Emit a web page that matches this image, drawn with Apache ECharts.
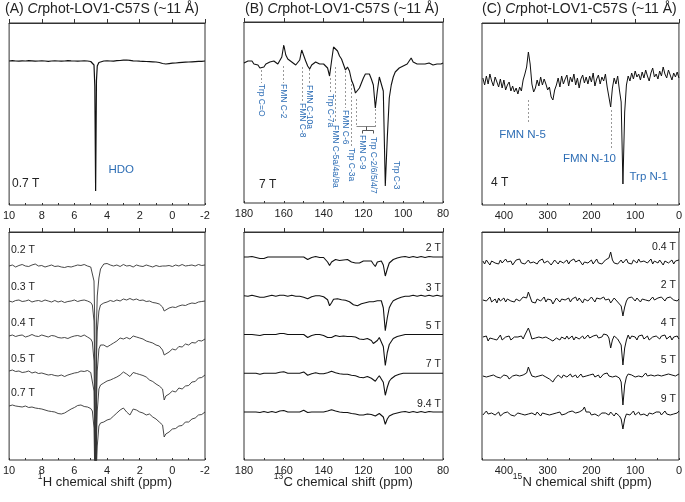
<!DOCTYPE html>
<html><head><meta charset="utf-8">
<script src="https://cdn.jsdelivr.net/npm/echarts@6/dist/echarts.min.js"></script>
<style>html,body{margin:0;padding:0;background:#fff}#c{width:685px;height:502px}</style>
</head><body><div id="c"></div>
<script>
// ---------------- DATA ----------------
// (A) 1H chemical shift grid (ppm)
const hShift = [10.0,9.8,9.6,9.4,9.2,9.0,8.8,8.6,8.4,8.2,8.0,7.8,7.6,7.4,7.2,7.0,6.8,6.6,6.4,6.2,6.0,5.8,5.6,5.4,5.2,5.0,
  4.9,4.8,4.75,4.7,4.65,4.6,4.5,4.4,
  4.2,4.0,3.8,3.6,3.4,3.2,3.0,2.8,2.6,2.4,2.2,2.0,1.8,1.6,1.4,1.2,1.0,0.8,0.6,
  0.5,0.4,
  0.2,0.0,-0.2,-0.4,-0.6,-0.8,-1.0,-1.2,-1.4,-1.6,-1.8,-2.0];
const hTop07T = [0,0.3,0,-0.2,0.2,0,0.3,0.1,-0.2,0,0.2,0,-0.3,0,0.2,0,-0.2,0,0.3,0.1,0,-0.2,0,0.2,0,-0.5,
  -1,-4,-25,-130,-20,-5,-1.5,-0.5,
  0,0.2,0,-0.2,0.3,0.5,0.8,1,0.6,0.2,0,-0.2,-0.3,-0.5,-0.6,-0.8,-1,-1.5,-2.5,
  -3.5,-3,
  -2.6,-2.2,-2,-1.7,-1.4,-1.2,-1,-0.8,-0.6,-0.4,-0.3,0];
const hSpec02T = [0,1,-1,0.5,1.5,0,-0.5,1,2,0,0.5,-1,0,1,-0.5,0,-1,-1.5,-0.5,-1,0,1,0.5,1.5,0,-1,
  -3,-15,-60,-250,-60,-30,-12,-3,
  2,2.5,1,0,1,-0.5,1.5,0,0.5,-1,1,0,-0.5,1,0,-1,0.5,-0.5,0,
  -1,0,
  0.5,-0.5,1,0,1.5,0,0.5,1,0,1.5,0.5,1];
const hSpec03T = [0,-1,0.5,1,-0.5,0,1,-1,0,0.5,-0.5,1,0,-1,0.5,-1,0,-1.5,-0.5,0,1,-0.5,0.5,1,0,-1.5,
  -4,-20,-70,-250,-60,-30,-10,-4,
  -2,-1,0.5,-0.5,1,0,2,1,2.5,1,2,0.5,1,-0.5,0,-1.5,-2,-3,-6,
  -10,-8,
  -7,-6,-6.5,-5,-4,-4.5,-3,-2,-2.5,-1,-0.5,0];
const hSpec04T = [0,1,-0.5,0.5,1,-1,0,1.5,0,-0.5,1,0,-1,0.5,0,-1.5,-2,-1.5,-2.5,-1,0,0.5,-0.5,1,-1,-3,
  -6,-25,-80,-250,-70,-35,-13,-9,
  -9,-11,-9,-7,-5,-2,-3,-1.5,-3,0,-1,-2,-3,-5,-6,-7,-9,-10,-14,
  -19,-17,
  -16,-13,-14,-10.5,-11,-8,-9,-6.5,-7,-4.5,-5,-3];
const hSpec05T = [0,1,-0.5,0,-1.5,-1,0,-2,-1,-2.5,-2,-3,-4,-3.5,-4.5,-5,-4,-5.5,-4,-3,-2,-1.5,0,-0.5,0.5,-1.5,
  -3,-20,-80,-250,-70,-40,-18,-14,
  -12,-10,-9,-7.5,-6,-4,-1,-3,-5.5,-1.5,-2.5,-3.5,-4.5,-6,-9,-10.5,-13,-15,-18,
  -29,-25,
  -23,-20,-21,-17,-18,-15,-14.5,-11,-10.5,-7,-6.5,-4];
const hSpec07T = [0,1,0,-0.5,-1,0,-1.5,-1,-2,-2.5,-3,-4,-5,-5.5,-6,-7.5,-8,-7,-5,-3,-1.5,0.5,1,-0.5,-1,-2.5,
  -5,-22,-70,-250,-60,-40,-20,-17,
  -16,-14,-13,-10,-7,-4,-2,-6,-9,-3,-4,-6,-7,-9,-8,-11,-13,-16,-19,
  -31,-28,
  -26,-23,-22.5,-20,-19.5,-16,-16,-13,-12,-9,-8.5,-6];

// (B) 13C chemical shift grid (ppm)
const cShift = [180,179,178,177,176,175,174,173,172,171,170,169,168,167,166,165,164,163,162,161,
  160,159,158,157,156,155,154,153,152,151,150,149,148,147,146,145,144,143,142,141,
  140,139,138,137,136,135,134,133,132,131,130,129,128,127,126,125,124,123,122,121,
  120,119,118,117,116,115,114,113,112,111,110,109,108,107,106,105,104,103,102,101,
  100,99,98,97,96,95,94,93,92,91,90,89,88,87,86,85,84,83,82,81,80];
const cTop7T = [0,1,2,0,2,-1,-3,-2,-5,-6, -4,-1,0,1,0,2,0,-1,1,6,
  18,8,4,3,1,-1,-2,0,3,13, 15,2,-3,-6,-2,0,1,0,-1,0,
  -1,-2,-5,-13,2,16,15,12,7,4, 2,-7,-4,-8,-17,-22,-30,-28,-25,-20,
  -15,-11,-9,-11,-16,-22,-45,-28,-14,-12, -28,-123,-75,-35,-22,-14,-9,-7,-5,-4,
  -3,-2,-1,2,5,1,0,-1,-2,-1, 0,-1,1,0,-1,-2,0,-1,-2,-1, 0];
const cSpec2T = [0,0.5,0,-0.5,0.5,0,-0.5,-1,-1.5,-2, -1.5,-0.5,0,0.5,0,-0.5,0,0.5,0,-0.5,
  0,0.5,0,-0.5,0,0.5,0,-0.5,0,0.5, 0,-1,-2.5,-1.5,-0.5,0,0.5,0,-0.5,0,
  -0.5,-2,-5,-8.5,-5,-3,-2.5,-3,-3.5,-2.5, -3,-3.5,-2.5,-4,-5,-4,-6,-5,-6,-5,
  -4,-3.5,-4,-3,-4,-7,-9.5,-5,-3,-4, -8,-19,-12,-6,-4,-2.5,-1.5,-1,-0.5,0,
  0,0.5,0,-0.5,0,0.5,0,-0.5,0,0.5, 0,-0.5,0,0.5,0,0,-0.5,0,0.5,0, 0];
const cSpec3T = [0,0.5,-0.5,0,0.5,0,-0.5,-1,-1.5,-2, -1.5,-1,-0.5,0,0.5,0,-0.5,0,0.5,0,
  0.5,0,-0.5,0,0.5,0,-0.5,0,-0.5,-1, -1.5,-2,-3,-2,-1,-0.5,0,-0.5,0,-0.5,
  -1,-2,-4,-10,-7,-3.5,-3,-3,-3.5,-4, -4,-4.5,-5,-6,-8,-9,-10.5,-10,-9,-8,
  -7,-7,-6.5,-6,-6,-6,-6.5,-5,-3.5,-5, -12,-35,-22,-12,-8,-5,-4,-3,-2,-1.5,
  -1,-0.5,0,-0.5,0,0.5,0,-0.5,0,0.5, 0,-0.5,0,0.5,0,-0.5,0,0.5,0,-0.5, 0];
const cSpec5T = [0,0.5,0,-0.5,0,0.5,-0.5,-1,-1,-0.5, 0,-0.5,0,0.5,0,-0.5,0,0.5,1,1.5,
  1,0.5,0,-0.5,0,0.5,0,-0.5,0,0.5, 0,-1,-3,-2,-1,-0.5,0,0.5,0,-0.5,
  -1,-1.5,-3,-5,-3,-1.5,-1,-1.5,-2,-1.5, -1.5,-2,-2,-2.5,-2,-2.5,-2.5,-3.5,-4.5,-5.5,
  -5,-4.5,-4,-4,-6,-9,-10.5,-6,-3,-5, -12,-31,-18,-10,-7,-4,-3,-2,-1.5,-1,
  -0.5,0,0.5,0,-0.5,0,0.5,0,-0.5,0, 0.5,0,-0.5,0,0.5,0,-0.5,0,0.5,0, 0];
const cSpec7T = [0,0.5,0,-0.5,0,0.5,0,-0.5,-1,-0.5, 0,-0.5,0,0.5,0,-0.5,0,0.5,1,2,
  1.5,0.5,0,-0.5,0,0.5,0,-0.5,0,0.5, 1.3,0,-2,-1,-0.5,0,0.5,0,-0.5,0,
  -0.5,0,0.5,1,2,1.5,0.5,0,-0.5,-1, -1,-1.5,-1,-1.5,-2,-2,-2.5,-3,-4,-5.5,
  -4.5,-3.5,-3.3,-3.5,-5,-7,-8,-5,-2.5,-4, -9,-22,-14,-8,-5.5,-3.5,-2.5,-1.5,-1,-0.5,
  0,0.5,0,-0.5,0,0.5,0,-0.5,0,0.5, 0,-0.5,0,0.5,0,-0.5,0,0.5,0,0, 0];
const cSpec94T = [0,0.5,0,-0.5,0,0.5,0,-0.5,-0.5,0, 0.5,0,-0.5,0,0.5,0,-0.5,0,1,2.3,
  1.5,0.5,0,-0.5,0,0.5,0,-0.5,0,1, 1.7,0.5,-0.5,-0.5,0,0.5,0,-0.5,0,0.5,
  0,0.5,1,1.5,2.3,2,1,0.5,0,-0.5, -0.5,-1,-0.5,-1,-1.5,-1.7,-2,-2.5,-3,-3.3,
  -3,-2.5,-2,-2,-2.5,-3.5,-4,-3,-1.5,-2.5, -5,-12.3,-7,-4,-3,-2,-1.5,-1,-0.5,0,
  0,0.5,0,-0.5,0,0.5,0,-0.5,0,0.5, 0,-0.5,0,0.5,0,0,-0.5,0,0.5,0, 0];

// (C) 15N chemical shift grid (ppm)
const nShift = [448,444,440,436,432,428,424,420,416,412,
  408,404,400,396,392,388,384,380,376,372,
  368,364,360,356,352,348,344,340,336,332,
  328,324,320,316,312,308,304,300,296,292,
  288,284,280,276,272,268,264,260,256,252,
  248,244,240,236,232,228,224,220,216,212,
  208,204,200,196,192,188,184,180,176,172,
  168,164,160,156,152,148,144,140,136,132,
  128,124,120,116,112,108,104,100,96,92,
  88,84,80,76,72,68,64,60,56,52,
  48,44,40,36,32,28,24,20,16,12,
  8,4,0];
const nTop4T = [4,-3,6,-2,8,1,-4,5,0,-5,
  3,-6,2,-8,-3,0,-9,-4,-10,-6,
  -12,-5,-9,2,8,15,30,18,-2,-10,
  -6,2,-4,5,-3,3,-2,-8,-5,-15,
  -18,-8,-3,4,-5,6,-2,3,7,-4,
  5,0,8,-3,4,-6,3,7,-1,5,
  -2,6,0,9,-4,3,7,-2,5,1,
  8,-5,-3,-25,-6,4,-2,6,-8,-20,
  -102,-30,-3,6,1,9,3,11,5,8,
  2,10,4,12,6,1,9,14,5,8,
  3,11,6,15,8,4,12,7,2,9,
  5,10,4];
const nSpec04T = [1,-2,2,0,-3,1,3,-1,0,-2,
  2,-1,1,3,0,-2,1,-3,-1,2,
  0,3,-1,1,-2,0,2,-1,-3,0,
  2,-2,1,0,3,-1,-2,1,0,-3,
  -1,2,0,-2,1,3,-1,0,2,-2,
  1,-1,3,0,-2,2,1,-3,0,2,
  -1,1,2,-2,0,3,-1,1,-2,0,
  2,0,4,10,2,-1,1,-2,0,2,
  -1,1,3,-1,0,-2,2,1,-1,3,
  0,-2,1,2,-1,0,3,-2,1,0,
  -1,2,0,-3,1,2,-1,0,2,-2,
  1,0,2];
const nSpec2T = [0,2,-1,1,3,-2,0,1,-3,2,
  -1,0,2,-2,1,3,-1,0,-2,1,
  2,-1,0,3,1,2,8,3,-2,0,
  -3,1,2,-1,0,3,-2,1,-1,0,
  -4,-1,2,0,-2,1,3,0,-1,2,
  -2,1,0,3,-1,2,0,-3,1,2,
  -1,0,3,1,-2,2,0,1,-1,3,
  0,-2,1,-3,-1,2,0,-2,-4,-6,
  -16,-7,-1,2,0,3,1,-1,2,0,
  -2,1,3,0,2,-1,1,3,0,-2,
  2,0,3,1,-1,2,0,3,1,0,
  2,-1,1];
const nSpec4T = [1,-1,2,-3,0,2,-1,1,-2,0,
  3,-2,0,1,-1,2,-2,0,1,3,
  1,0,2,-1,3,4,10,5,-1,-3,
  0,-2,1,-1,0,-2,1,0,-1,-2,
  -3,-1,0,2,-2,1,0,-1,2,-1,
  0,2,-2,1,3,-1,0,2,-1,1,
  3,0,-1,2,1,3,0,2,1,4,
  2,3,0,-10,-2,2,1,-1,-3,-7,
  -27,-10,-2,3,-1,2,0,1,-2,2,
  0,3,-1,1,2,-2,0,1,-1,2,
  1,-1,2,0,3,-1,1,2,-2,1,
  0,2,-1];
const nSpec5T = [0,2,-1,1,0,-2,1,0,-1,1,
  -2,0,1,-1,0,-3,-1,0,-2,1,
  -1,0,-2,1,2,3,9,4,0,-2,
  -1,1,0,-2,1,0,-1,-2,-3,-4,
  -6,-3,-1,1,0,-2,1,2,-1,0,
  2,-1,0,1,-2,0,2,-1,1,0,
  -2,1,0,2,-1,0,1,-2,0,2,
  1,3,0,2,-1,1,0,2,-2,-6,
  -29,-9,-1,2,0,1,3,-1,1,0,
  2,-1,1,3,0,-2,1,2,0,-1,
  1,3,0,2,1,-1,2,0,1,3,
  0,1,2];
const nSpec9T = [-1,1,3,0,-2,1,2,-1,0,2,
  -2,0,1,-1,2,0,-1,1,-2,0,
  1,-1,0,2,-1,1,0,-2,1,0,
  -1,2,0,-2,1,-1,0,2,-1,1,
  0,-2,1,0,2,-1,1,0,-1,2,
  1,3,5,1,-1,2,1,4,7,2,
  0,2,-1,1,0,2,-2,0,1,-1,
  1,0,-1,2,0,-2,1,0,-2,-5,
  -15,-5,0,2,-1,1,3,-1,0,2,
  -1,1,0,2,-2,1,3,0,-1,2,
  0,2,-1,1,3,0,2,-1,1,0,
  2,1,3];

// axis ranges: [min, max, major interval, minor interval]
const hAxis = [-2, 10, 2, 1];
const cAxis = [80, 180, 20, 10];
const nAxis = [0, 450, 100, 50];
const axisNames = [['1', 'H chemical shift (ppm)'], ['13', 'C chemical shift (ppm)'], ['15', 'N chemical shift (ppm)']];

// field labels
const hTopField = '0.7 T', cTopField = '7 T', nTopField = '4 T';
const hFields = ['0.2 T','0.3 T','0.4 T','0.5 T','0.7 T'];
const cFields = ['2 T','3 T','5 T','7 T','9.4 T'];
const nFields = ['0.4 T','2 T','4 T','5 T','9 T'];

// peak annotations
const cPeakNames = ['Trp C=O','FMN C-2','FMN C-8','FMN C-10a','Trp C-7a','FMN C-5a/4a/9a','FMN C-6','Trp C-3a'];
const cPeakPpm = [171.5, 160.5, 151, 147.3, 137, 134.4, 129.4, 126.1];
const cGroupNames = ['FMN C-9','Trp C-2/6/5/4/7'];
const cGroupPpm = [120.9, 115.3];
const cGroupEnds = [123.7, 114.2];
const cC3Name = 'Trp C-3', cC3Ppm = 103.6;
const nPeakNames = ['FMN N-5','FMN N-10','Trp N-1'];
const nPeakPpm = [344, 156, 128];
const nLabelPpm = [357.5, 204.5, 69];
const hdoName = 'HDO', hdoLabelPpm = 3.13;

// ---------------- CHART ----------------
const FAMILY = 'Liberation Sans, Arial, Helvetica, sans-serif';
const FONT = FAMILY;
const BLUE = '#2E6EB5';
const chart = echarts.init(document.getElementById('c'), null, {renderer: 'canvas'});

const grids = [
  {left: 5,   top: 23,  width: 200, height: 182},
  {left: 244, top: 22,  width: 199, height: 181},
  {left: 482, top: 23,  width: 201, height: 182},
  {left: 5,   top: 232, width: 200, height: 228},
  {left: 244, top: 232, width: 199, height: 228},
  {left: 482, top: 232, width: 201, height: 228}
];
const ranges = [hAxis, cAxis, nAxis, hAxis, cAxis, nAxis];

const xAxes = [], yAxes = [];
grids.forEach((g, i) => {
  const r = ranges[i];
  xAxes.push({
    type: 'value', gridIndex: i, min: r[0], max: r[1], interval: r[2], inverse: true, position: 'bottom',
    axisLine: {show: true, lineStyle: {color: '#333', width: 1}},
    axisTick: {show: true, inside: true, length: 4, lineStyle: {color: '#333', width: 1}},
    axisLabel: {show: true, margin: 5, fontSize: 11, color: '#222', fontFamily: FONT,
      showMaxLabel: r === nAxis ? false : true, showMinLabel: true},
    splitLine: {show: false}
  });
  yAxes.push({type: 'value', gridIndex: i, min: -g.height, max: 0, show: false});
});
grids.forEach((g, i) => {
  const r = ranges[i];
  xAxes.push({
    type: 'value', gridIndex: i, min: r[0], max: r[1], interval: r[3], inverse: true, position: 'bottom',
    axisLine: {show: false},
    axisTick: {show: true, inside: true, length: 2, lineStyle: {color: '#333', width: 1}},
    axisLabel: {show: false}, splitLine: {show: false}
  });
});

const series = [];
function spec(i, shift, vals, offset, color, width) {
  series.push({
    type: 'line', xAxisIndex: i, yAxisIndex: i, showSymbol: false, symbol: 'none',
    silent: true, animation: false, clip: true,
    lineStyle: {color: color, width: width},
    data: shift.map((x, k) => [x, vals[k] + offset])
  });
}
// top panels (offset = baseline position below grid top)
spec(0, hShift, hTop07T, -38, '#111', 1.2);
spec(1, cShift, cTop7T, -41, '#111', 1.1);
spec(2, nShift, nTop4T, -59, '#111', 1);
// bottom stacks
[hSpec02T, hSpec03T, hSpec04T, hSpec05T, hSpec07T].forEach((v, k) => spec(3, hShift, v, -(34 + 35 * k), '#333', 0.9));
[cSpec2T, cSpec3T, cSpec5T, cSpec7T, cSpec94T].forEach((v, k) => spec(4, cShift, v, -(25 + 38.75 * k), '#111', 1.1));
[nSpec04T, nSpec2T, nSpec4T, nSpec5T, nSpec9T].forEach((v, k) => spec(5, nShift, v, -(30 + 38 * k), '#111', 1));

const titleStyle = {fontSize: 14, fontWeight: 'normal', color: '#222', fontFamily: FONT,
  rich: {it: {fontSize: 14, fontWeight: 'normal', color: '#222', fontFamily: FONT, fontStyle: 'italic'},
         n: {fontSize: 14, fontWeight: 'normal', color: '#222', fontFamily: FONT}}};
const titles = [
  {text: '{n|(A) }{it|Cr}{n|phot-LOV1-C57S (~11 Å)}', left: 5, top: 2},
  {text: '{n|(B) }{it|Cr}{n|phot-LOV1-C57S (~11 Å)}', left: 245, top: 2},
  {text: '{n|(C) }{it|Cr}{n|phot-LOV1-C57S (~11 Å)}', left: 482, top: 2}
].map(t => Object.assign(t, {padding: 0, textStyle: titleStyle}));

chart.setOption({
  animation: false,
  backgroundColor: '#fff',
  title: titles,
  grid: grids.map(g => Object.assign({show: true, borderColor: '#333', borderWidth: 1, containLabel: false}, g)),
  xAxis: xAxes,
  yAxis: yAxes,
  series: series
});

// ---------------- ANNOTATIONS ----------------
const ax = (i, v) => chart.convertToPixel({xAxisIndex: i}, v);
const crisp = v => Math.round(v) + 0.5;
const els = [];
function text(x, y, str, size, color, align, vAlign, rot) {
  els.push({type: 'text', x: x, y: y, rotation: rot || 0, silent: true,
    style: {text: str, fontSize: size, fontFamily: FONT, fill: color, align: align, verticalAlign: vAlign}});
}
function line(x1, y1, x2, y2, color, dash) {
  els.push({type: 'line', silent: true, shape: {x1: x1, y1: y1, x2: x2, y2: y2},
    style: {stroke: color, lineWidth: 1, lineDash: dash ? [2, 2] : null}});
}

// axis names: main text centred under each lower panel, isotope number as superscript to its left
const measure = document.createElement('canvas').getContext('2d');
measure.font = '13px ' + FAMILY;
[3, 4, 5].forEach((gi, k) => {
  const g = grids[gi];
  const w = measure.measureText(axisNames[k][1]).width;
  const supW = axisNames[k][0].length * 4.7;
  const cx = g.left + g.width / 2 + supW / 2;
  text(cx, 482, axisNames[k][1], 13, '#222', 'center', 'middle');
  text(cx - w / 2 - 0.3, 477, axisNames[k][0], 8.5, '#222', 'right', 'middle');
});

// A top
text(ax(0, hdoLabelPpm), 170, hdoName, 11.5, BLUE, 'center', 'middle');
text(12, 184, hTopField, 12, '#222', 'left', 'middle');
// A bottom
const hFieldY = [250, 287, 323, 359, 393];
hFields.forEach((f, k) => text(11, hFieldY[k], f, 10.5, '#222', 'left', 'middle'));

// B top annotations
const cDash = [[70, 83], [66, 83], [67, 102], [69, 83], [78, 92], [67, 123], [71, 108], [80, 147]];
const cTop = [84, 84, 103, 85, 94, 125, 110, 148];
cPeakNames.forEach((nm, k) => {
  const x = crisp(ax(1, cPeakPpm[k]));
  line(x, cDash[k][0], x, cDash[k][1], '#999', true);
  text(x, cTop[k], nm, 8.5, BLUE, 'left', 'middle', -Math.PI / 2);
});
{
  const xl = crisp(ax(1, cGroupEnds[0])), xr = crisp(ax(1, cGroupEnds[1]));
  line(xl, 99, xl, 127, '#999', true);
  line(xr, 109, xr, 127, '#999', true);
  line(xl, 126.5, xr, 126.5, '#888', false);
  const xm = crisp((xl + xr) / 2);
  line(xm, 126.5, xm, 130.5, '#555', false);
  const x1 = crisp(ax(1, cGroupPpm[0])), x2 = crisp(ax(1, cGroupPpm[1]));
  line(x1, 130.5, x2, 130.5, '#555', false);
  line(x1, 130.5, x1, 133.5, '#555', false);
  line(x2, 130.5, x2, 133.5, '#555', false);
  text(x1, 135, cGroupNames[0], 8.5, BLUE, 'left', 'middle', -Math.PI / 2);
  text(x2, 137, cGroupNames[1], 8.5, BLUE, 'left', 'middle', -Math.PI / 2);
  text(ax(1, cC3Ppm), 161, cC3Name, 8.5, BLUE, 'left', 'middle', -Math.PI / 2);
}
text(259, 185, cTopField, 12, '#222', 'left', 'middle');
const cFieldY = [248, 288, 326, 364, 404];
cFields.forEach((f, k) => text(441, cFieldY[k], f, 10.5, '#222', 'right', 'middle'));

// C top annotations
{
  const x0 = crisp(ax(2, nPeakPpm[0])), x1 = crisp(ax(2, nPeakPpm[1]));
  line(x0, 100, x0, 122, '#999', true);
  line(x1, 110, x1, 148, '#999', true);
  text(ax(2, nLabelPpm[0]), 135, nPeakNames[0], 11.5, BLUE, 'center', 'middle');
  text(ax(2, nLabelPpm[1]), 159, nPeakNames[1], 11.5, BLUE, 'center', 'middle');
  text(ax(2, nLabelPpm[2]), 177, nPeakNames[2], 11.5, BLUE, 'center', 'middle');
}
text(491, 183, nTopField, 12, '#222', 'left', 'middle');
const nFieldY = [247, 285, 323, 360, 399];
nFields.forEach((f, k) => text(676, nFieldY[k], f, 10.5, '#222', 'right', 'middle'));

chart.setOption({graphic: {elements: els}});
</script></body></html>
